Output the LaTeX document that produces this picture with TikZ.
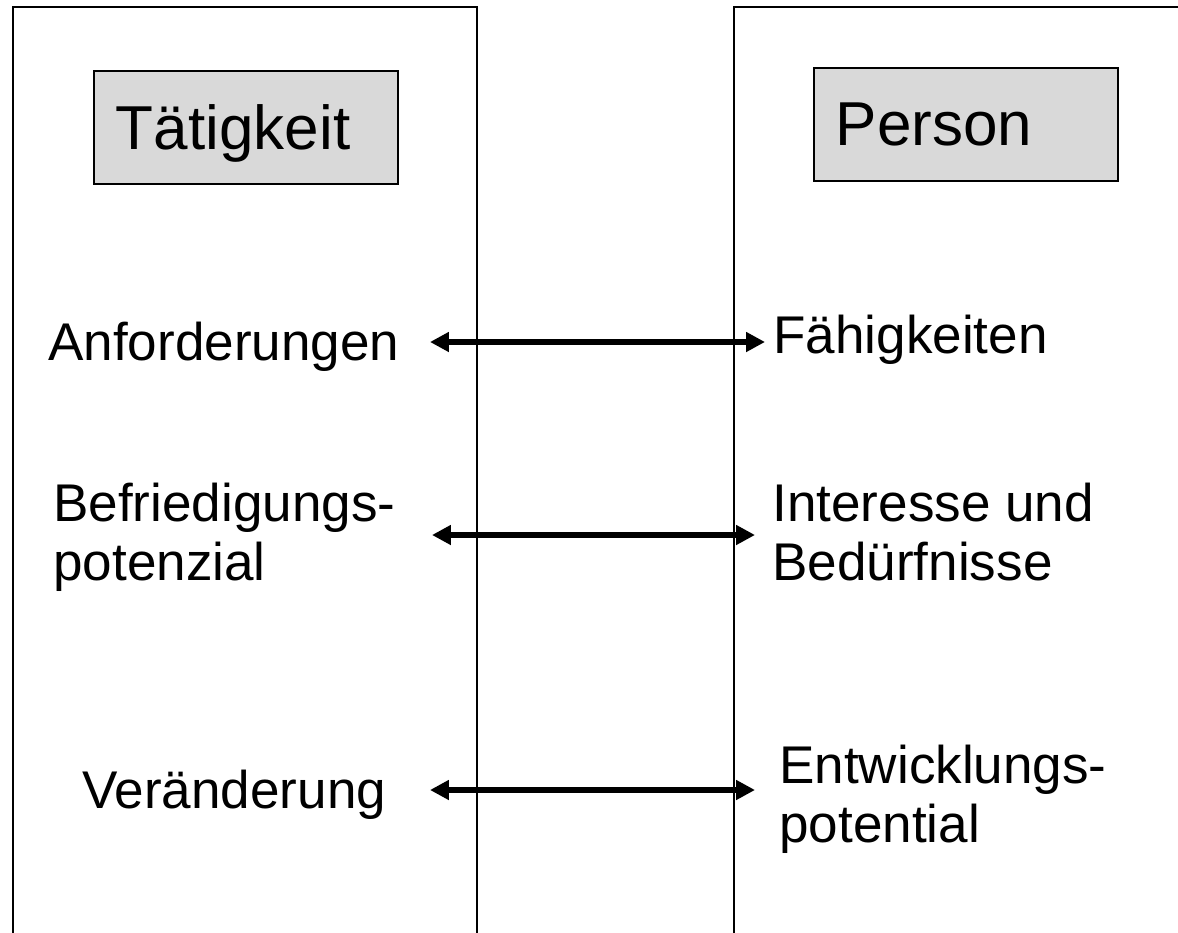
\documentclass[tikz,border=0pt]{standalone}
\usepackage{fontspec}
\setmainfont{Liberation Sans}
\usetikzlibrary{arrows.meta}

\begin{document}
\begin{tikzpicture}[x=0.02cm,y=-0.02cm,
                      panel/.style={draw,line width=1pt},
                      headbox/.style={draw,line width=1pt,fill=black!15,anchor=north west,
                        minimum width=6.08cm,minimum height=2.26cm,text width=5.2cm,
                        inner xsep=0.44cm,align=left,text depth=0pt,
                        font=\fontsize{35.3pt}{40pt}\selectfont},
                      itemtext/.style={anchor=base west,inner sep=0,align=left,
                        font=\fontsize{30.2pt}{33.2pt}\selectfont},
                      biarrow/.style={{Triangle[length=0.38cm,width=0.38cm]}-{Triangle[length=0.38cm,width=0.38cm]},
                        line width=3.1pt}]
  \clip (0,0) rectangle (1178,933);
  % the two columns
  \draw[panel] (13,950) -- (13,7) -- (477,7) -- (477,950);
  \draw[panel] (734,950) -- (734,7) -- (1190,7);

  \node[headbox] (task) at (93,70) {Tätigkeit};
  \node[headbox] (person) at (813,67) {Person};

  % base of a two-line node is its last line
  \node[itemtext] (ta1) at (48,360) {Anforderungen};
  \node[itemtext] (pa1) at (773,353) {Fähigkeiten};
  \node[itemtext] (ta2) at (53,580) {Befriedigungs-\\potenzial};
  \node[itemtext] (pa2) at (772,580) {Interesse und\\Bedürfnisse};
  \node[itemtext] (ta3) at (82,808) {Veränderung};
  \node[itemtext] (pa3) at (779,842) {Entwicklungs-\\potential};

  \coordinate (l1) at (430,342);  \coordinate (r1) at (765,342);
  \coordinate (l2) at (432,535);  \coordinate (r2) at (755,535);
  \coordinate (l3) at (430,790);  \coordinate (r3) at (755,790);
  \foreach \row in {1,2,3} {%
    \draw[biarrow] (l\row) -- (r\row);
  }
\end{tikzpicture}
\end{document}
